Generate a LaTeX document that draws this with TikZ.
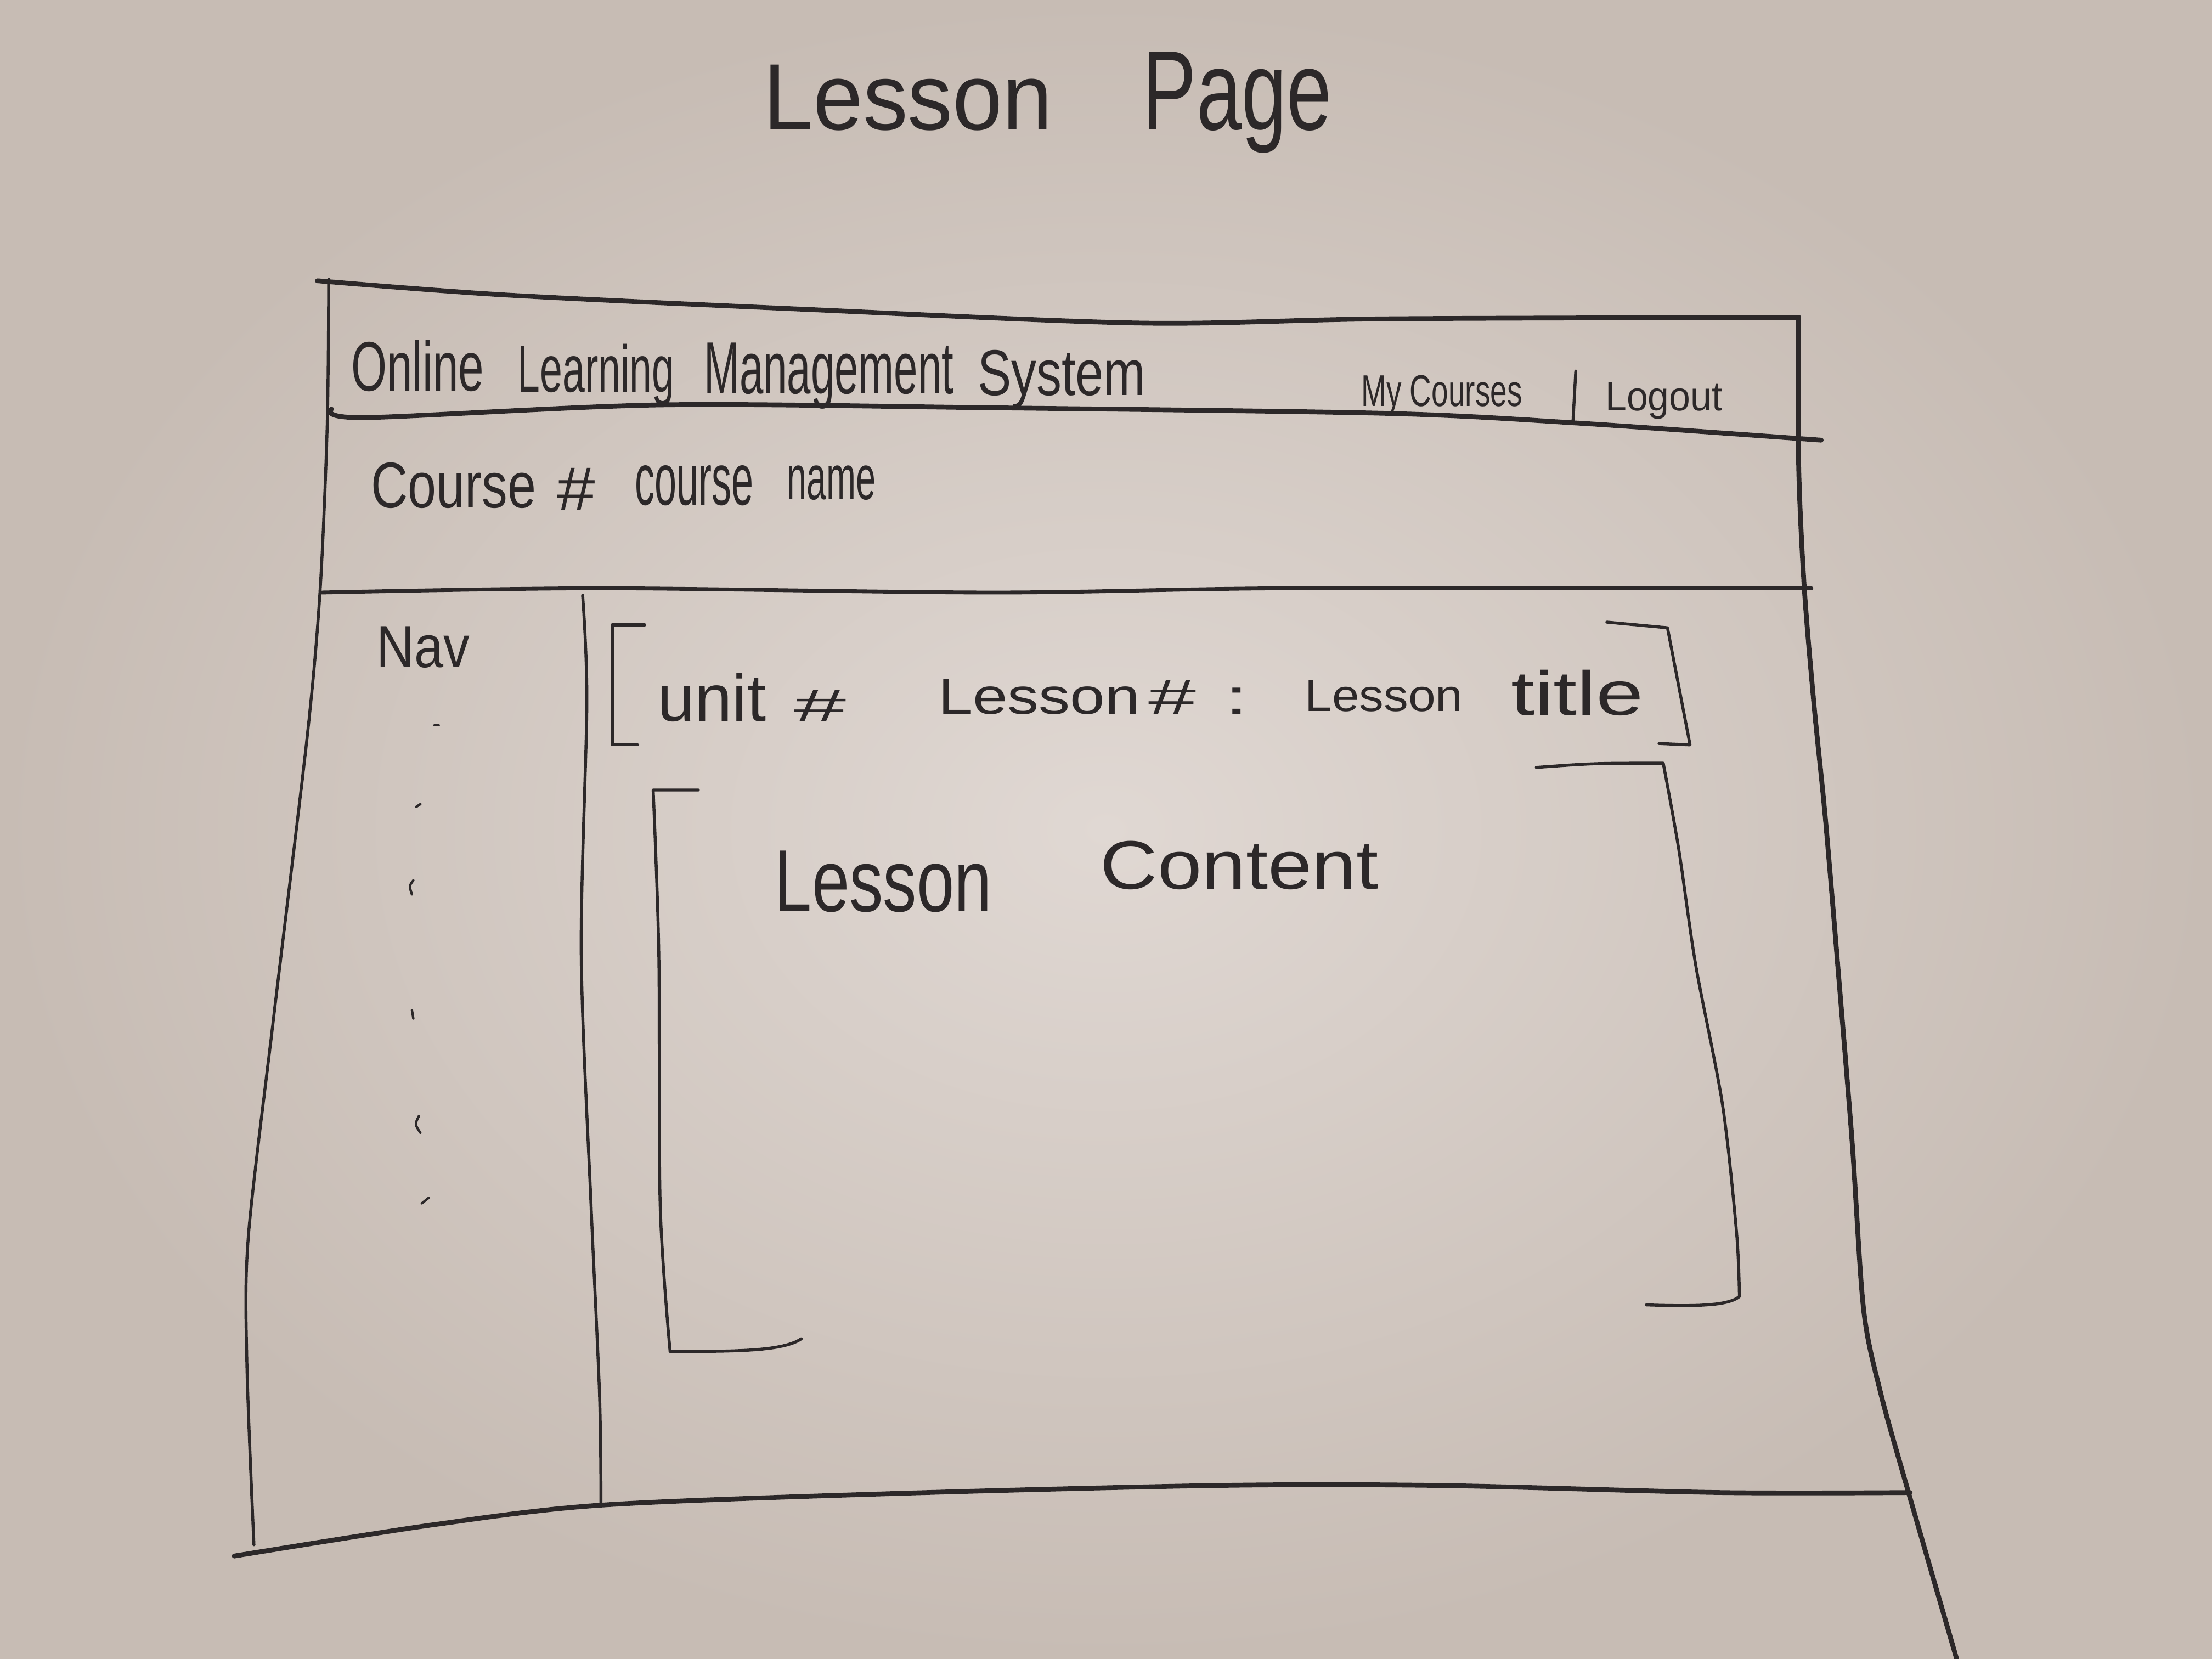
\documentclass[tikz,border=0pt]{standalone}
\usepackage{fontspec}
\setmainfont{Liberation Sans}
\usepackage{graphicx}
\definecolor{paperhi}{RGB}{224,216,211}
\definecolor{paperlo}{RGB}{199,188,180}
\definecolor{lead}{RGB}{44,40,41}
% hand-lettered word: fixed width and height
\newcommand\hand[3]{\resizebox{#1}{#2}{#3}}
\begin{document}
\begin{tikzpicture}[x=0.025cm,y=-0.025cm,
  pencil/.style={draw=lead, line width=1.5pt, line cap=round, line join=round},
  heavy/.style={pencil, line width=2.4pt},
  word/.style={inner sep=0pt, outer sep=0pt, anchor=base west, text=lead},
  curve/.style={smooth, tension=0.5},
]
% sheet of paper, a little darker towards the corners
\shade[inner color=paperhi, outer color=paperlo]
  (0,0) rectangle (1568,1176);
\useasboundingbox (0,0) rectangle (1568,1176);

% page title
\node[word] (tlesson) at (541,92) {\hand{5.125cm}{1.15cm}{Lesson}};
\node[word] (tpage)   at (810,92) {\hand{3.35cm}{1.375cm}{Page}};

% browser frame
\draw[heavy] plot[curve] coordinates {(225,199) (357,209) (565,219) (808,229) (982,226) (1275,225)};
\draw[pencil] plot[curve] coordinates {(233,198) (232,300) (227,417) (218,520) (194,721) (176,877) (175,966) (180,1095)};
\draw[heavy] plot[curve] coordinates {(1275,225) (1275,330) (1279,417) (1286,501) (1294,581) (1304,700) (1313,811) (1321,928) (1333,987) (1352,1055) (1387,1176)};
\draw[heavy] plot[curve] coordinates {(166,1103) (306,1081) (425,1067) (624,1059) (862,1053) (1021,1053) (1219,1058) (1354,1058)};

% header bar
\draw[heavy] plot[curve] coordinates {(235,290) (259,296) (468,287) (700,289) (982,293) (1120,300) (1291,312)};
\node[word] (hw1) at (249,277) {\hand{2.35cm}{0.9cm}{Online}};
\node[word] (hw2) at (367,278) {\hand{2.775cm}{0.85cm}{Learning}};
\node[word] (hw3) at (499,279) {\hand{4.425cm}{0.9cm}{Management}};
\node[word] (hw4) at (693,280) {\hand{2.975cm}{0.8cm}{System}};
\node[word] (mycourses) at (965,288) {\hand{2.85cm}{0.55cm}{My Courses}};
\draw[pencil] (1117,263) -- (1115,299);
\node[word] (logout) at (1138,291) {\hand{2.075cm}{0.5cm}{Logout}};

% course row
\node[word] (cw1) at (263,360) {\hand{2.925cm}{0.8cm}{Course}};
\node[word] (cw2) at (395,362) {\hand{0.675cm}{0.75cm}{\#}};
\node[word] (cw3) at (450,358) {\hand{2.1cm}{0.7cm}{course}};
\node[word] (cw4) at (558,354) {\hand{1.575cm}{0.6cm}{name}};
\draw[pencil, line width=1.9pt] plot[curve] coordinates {(228,420) (426,417) (704,420) (912,417) (1284,417)};

% navigation column
\draw[pencil] plot[curve] coordinates {(413,422) (416,498) (412,676) (419,855) (425,989) (426,1066)};
\node[word] (nav) at (267,473) {\hand{1.65cm}{0.725cm}{Nav}};
\draw[pencil, line width=1.2pt] (308,514) -- (311,514);
\draw[pencil, line width=1.2pt] (295,572) -- (298,570);
\draw[pencil, line width=1.2pt] (293,624) .. controls (290,628) .. (292,634);
\draw[pencil, line width=1.2pt] (292,716) -- (293,722);
\draw[pencil, line width=1.2pt] (297,791) .. controls (294,797) .. (298,803);
\draw[pencil, line width=1.2pt] (299,853) -- (304,849);

% lesson heading in brackets
\draw[pencil] (457,443) -- (434,443) -- (434,528) -- (452,528);
\draw[pencil] (1139,441) -- (1182,445) -- (1198,528) -- (1176,527);
\node[word] (lh1) at (466,511) {\hand{1.925cm}{0.85cm}{unit}};
\node[word] (lh2) at (563,511) {\hand{0.925cm}{0.55cm}{\#}};
\node[word] (lh3) at (665,506) {\hand{3.575cm}{0.62cm}{Lesson}};
\node[word] (lh4) at (814,506) {\hand{1.775cm}{0.6cm}{\#\,\,:}};
\node[word] (lh5) at (925,504) {\hand{2.8cm}{0.55cm}{Lesson}};
\node[word] (lh6) at (1071,507) {\hand{2.35cm}{0.8cm}{title}};

% lesson content area
\draw[pencil] (495,560) -- (463,560)
  -- plot[curve] coordinates {(463,560) (467,676) (468,855) (475,958)}
  .. controls (520,958) and (555,958) .. (568,949);
\draw[pencil] (1089,544) .. controls (1130,541) .. (1179,541)
  -- plot[curve] coordinates {(1179,541) (1190,602) (1202,684) (1221,783) (1231,874) (1233,919)}
  .. controls (1225,926) and (1200,926) .. (1167,925);
\node[word] (lc1) at (549,646) {\hand{3.85cm}{1.075cm}{Lesson}};
\node[word] (lc2) at (780,630) {\hand{4.925cm}{0.85cm}{Content}};
\end{tikzpicture}
\end{document}
